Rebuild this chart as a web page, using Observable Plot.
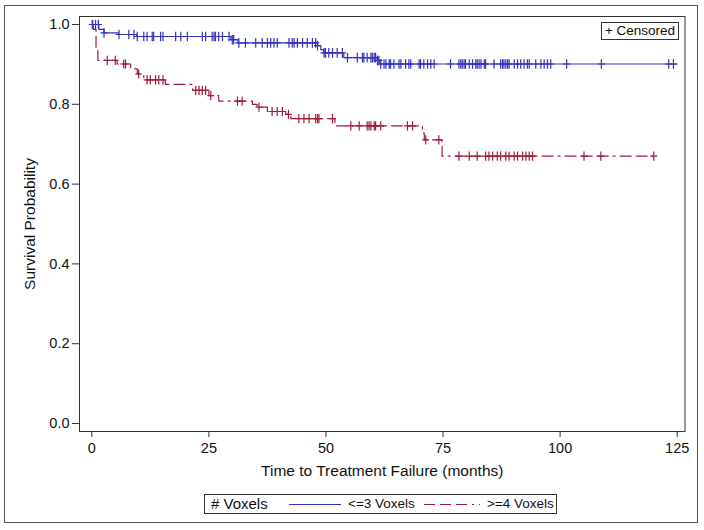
<!DOCTYPE html>
<html>
<head>
<meta charset="utf-8">
<script src="https://cdn.jsdelivr.net/npm/d3@7"></script>
<script src="https://cdn.jsdelivr.net/npm/@observablehq/plot@0.6"></script>
<style>
  html, body { margin: 0; padding: 0; background: #fff; }
  body { font-family: "Liberation Sans", Arial, sans-serif; color: #111; }
  #wrap { position: relative; width: 704px; height: 530px; overflow: hidden; }
  #frame { position: absolute; left: 4px; top: 5px; width: 694px; height: 518px; border: 1px solid #555; box-sizing: border-box; }
  #chart { position: absolute; left: 0; top: 0; }
  #censored { position: absolute; left: 601px; top: 22px; width: 78px; height: 18px; border: 1px solid #333; box-sizing: border-box; font-size: 13.5px; line-height: 16px; text-align: center; background: #fff; }
  #legend { position: absolute; left: 204px; top: 494px; width: 353px; height: 20px; border: 1px solid #333; box-sizing: border-box; font-size: 13.5px; white-space: nowrap; }
  #legend span, #legend svg { position: absolute; top: 0; }
</style>
</head>
<body>
<div id="wrap">
  <div id="frame"></div>
  <div id="chart"></div>
  <div id="censored">+ Censored</div>
  <div id="legend"></div>
</div>
<script>
// ---- Data ----
const groups = ["<=3 Voxels", ">=4 Voxels"];
const legendTitle = "# Voxels";

// <=3 Voxels: step times and survival after each step
const blueStepT = [0, 1.5, 2.6, 5.7, 9.6, 29.7, 31.2, 48.2, 48.9, 49.5, 53.8, 61.0, 61.5];
const blueStepS = [1.0, 0.988, 0.979, 0.975, 0.970, 0.962, 0.954, 0.947, 0.937, 0.929, 0.917, 0.910, 0.901];
const blueEnd = 125;
const blueCensor = [0.1, 0.8, 1.4, 2.6, 5.8, 7.9, 9.0, 9.7, 11.1, 11.8, 12.9, 13.2, 14.7, 15.2, 17.9, 19.0, 20.4,
  23.6, 24.3, 25.7, 26.1, 26.4, 27.1, 27.9, 29.3, 30.0, 30.3, 31.4, 32.8, 35.0, 36.4, 37.5, 38.2, 38.9, 39.6,
  42.1, 42.8, 43.2, 43.9, 45.0, 46.0, 47.1, 47.8, 48.2, 49.6, 49.9, 50.6, 51.4, 52.4, 53.5, 54.6, 56.7, 57.8,
  58.1, 58.8, 59.6, 59.9, 60.3, 60.6, 61.0, 61.3, 61.7, 62.4, 62.8, 63.5, 63.8, 64.5, 65.6, 66.0, 67.0, 67.7,
  68.1, 69.9, 70.2, 70.9, 71.7, 72.4, 73.1, 76.6, 78.4, 78.8, 79.1, 79.5, 79.8, 80.6, 81.3, 82.0, 82.3, 82.7,
  83.1, 83.8, 84.1, 85.9, 87.3, 87.7, 88.0, 88.4, 88.8, 89.1, 90.2, 90.9, 91.6, 92.3, 93.0, 93.4, 94.8, 95.9,
  96.6, 97.3, 98.0, 101.4, 108.8, 123.2, 124.2];

// >=4 Voxels
const redStepT = [0, 0.3, 0.9, 1.3, 5.4, 8.3, 9.7, 11.1, 15.7, 21.5, 25.0, 27.1, 34.3, 35.3, 37.5, 41.4, 42.5, 51.9, 70.6, 71.0, 74.8];
const redStepS = [1.0, 0.988, 0.943, 0.910, 0.901, 0.889, 0.876, 0.861, 0.850, 0.835, 0.822, 0.808, 0.800, 0.793, 0.782, 0.775, 0.764, 0.746, 0.728, 0.711, 0.670];
const redEnd = 120;
const redCensor = [0.2, 3.3, 5.0, 6.8, 7.2, 10.0, 11.8, 12.5, 13.6, 14.3, 15.2, 22.2, 22.9, 23.6, 24.3, 25.4,
  31.1, 32.1, 35.7, 38.5, 39.6, 40.7, 42.0, 44.2, 45.3, 46.4, 47.8, 48.2, 48.5, 51.4, 55.3, 57.1, 58.8, 59.2,
  59.6, 60.3, 60.6, 61.7, 67.4, 68.5, 71.3, 74.1, 78.4, 80.6, 82.3, 84.1, 84.8, 85.6, 86.6, 87.3, 88.4, 89.1,
  90.2, 90.9, 92.0, 92.7, 93.4, 94.1, 105.1, 108.7, 120.0];

const xTicks = [0, 25, 50, 75, 100, 125];
const yTicks = [0, 0.2, 0.4, 0.6, 0.8, 1.0];
const xLabel = "Time to Treatment Failure (months)";
const yLabel = "Survival Probability";

const blueColor = "#3333bb";
const redColor = "#a01c36";
const redDash = "11,5,11,5,11,5,2,5";

// ---- Build tables ----
function stepTable(T, S, end, g) {
  const rows = T.map((t, i) => ({t, s: S[i], g}));
  rows.push({t: end, s: S[S.length - 1], g});
  return rows;
}
function survAt(T, S, t) {
  let s = S[0];
  for (let i = 0; i < T.length; i++) if (T[i] <= t) s = S[i];
  return s;
}
const blueLine = stepTable(blueStepT, blueStepS, blueEnd, groups[0]);
const redLine = stepTable(redStepT, redStepS, redEnd, groups[1]);
const blueCens = blueCensor.map(t => ({t, s: survAt(blueStepT, blueStepS, t)}));
const redCens = redCensor.map(t => ({t, s: survAt(redStepT, redStepS, t)}));

// plus symbol: taller than wide
const plusSym = {
  draw(ctx, size) {
    const r = Math.sqrt(size / Math.PI);
    const w = r * 0.75;
    ctx.moveTo(-w, 0); ctx.lineTo(w, 0);
    ctx.moveTo(0, -r); ctx.lineTo(0, r);
  }
};

const chart = Plot.plot({
  width: 704,
  height: 485,
  marginLeft: 79,
  marginRight: 19.5,
  marginTop: 16,
  marginBottom: 54,
  style: {fontFamily: "'Liberation Sans', Arial, sans-serif", fontSize: "14.5px", color: "#111", background: "transparent"},
  x: {domain: [-2.63, 126.67]},
  y: {domain: [-0.0201, 1.0201]},
  marks: [
    Plot.line(redLine, {x: "t", y: "s", curve: "step-after", stroke: redColor, strokeWidth: 1.2, strokeDasharray: redDash}),
    Plot.line(blueLine, {x: "t", y: "s", curve: "step-after", stroke: blueColor, strokeWidth: 1.2}),
    Plot.dot(redCens, {x: "t", y: "s", symbol: plusSym, r: 4.6, stroke: redColor, strokeWidth: 1.2}),
    Plot.dot(blueCens, {x: "t", y: "s", symbol: plusSym, r: 4.8, stroke: blueColor, strokeWidth: 1.2}),
    Plot.frame({stroke: "#333", strokeWidth: 1}),
    Plot.axisX({ticks: xTicks, tickSize: 6, tickPadding: 5, label: null, stroke: "#333"}),
    Plot.axisY({ticks: yTicks, tickSize: 7, tickPadding: 3, tickFormat: d => d.toFixed(1), label: null, stroke: "#333"}),
    Plot.text([xLabel], {frameAnchor: "bottom", dy: 40, fontSize: 15.5, textAnchor: "middle", lineAnchor: "middle", fill: "#111"}),
    Plot.text([yLabel], {frameAnchor: "left", dx: -49, rotate: -90, fontSize: 15.5, textAnchor: "middle", lineAnchor: "middle", fill: "#111"})
  ]
});
document.getElementById("chart").appendChild(chart);

// ---- Legend ----
const leg = document.getElementById("legend");
leg.innerHTML = `
  <span style="left:6px;font-size:15px;line-height:18px;">${legendTitle}</span>
  <svg style="left:83px" width="54" height="18"><line x1="1" x2="53" y1="9.5" y2="9.5" stroke="${blueColor}" stroke-width="1.2"/></svg>
  <span style="left:143px;line-height:18px;">${groups[0].replace("<", "&lt;")}</span>
  <svg style="left:218px" width="58" height="18"><line x1="1" x2="57" y1="9.5" y2="9.5" stroke="${redColor}" stroke-width="1.2" stroke-dasharray="${redDash}"/></svg>
  <span style="left:282px;line-height:18px;">${groups[1].replace(">", "&gt;")}</span>`;
</script>
</body>
</html>
